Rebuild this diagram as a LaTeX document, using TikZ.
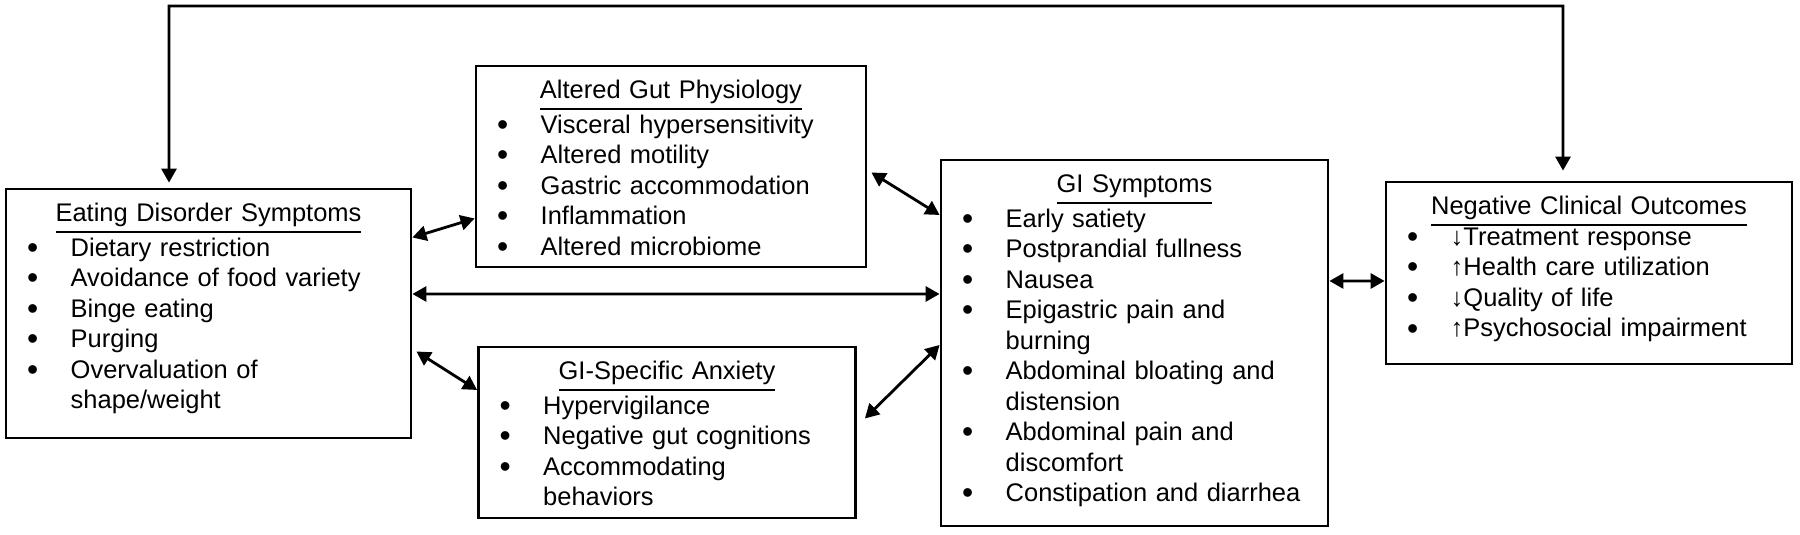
\documentclass[tikz,border=0pt]{standalone}
\usepackage{fontspec}
\setmainfont{Liberation Sans}
\usetikzlibrary{calc,arrows.meta}

\newcommand{\itm}{\makebox[4.37mm][l]{\raisebox{-0.08em}{\scalebox{1.25}{\textbullet}}}}
\newcommand{\cnt}{\hspace*{4.37mm}}
\newcommand{\ttl}[1]{\makebox[\linewidth]{\strut\underline{#1}}}

\begin{document}
\begin{tikzpicture}[line width=0.8pt,
    >={Triangle[length=4pt,width=4.3pt]},
    box/.style={draw,inner sep=0pt},
    items/.style={anchor=north,inner sep=0pt,align=left,
      font=\fontsize{7.25}{8.68}\selectfont}]
    \useasboundingbox (0,0) rectangle (18,5.35);

    \node[box,minimum width=4.05cm,minimum height=2.49cm] (ed) at (2.085,2.215) {};
    \node[box,minimum width=3.90cm,minimum height=2.01cm] (agp) at (6.71,3.685) {};
    \node[box,minimum width=3.77cm,minimum height=1.71cm] (anx) at (6.67,1.025) {};
    \node[box,minimum width=3.87cm,minimum height=3.66cm] (gis) at (11.345,1.92) {};
    \node[box,minimum width=4.06cm,minimum height=1.82cm] (nco) at (15.89,2.62) {};

    \node[items,text width=3.63cm] (edlist) at ([yshift=-1.16mm]ed.north)
      {\ttl{Eating Disorder Symptoms}\\
       \itm Dietary restriction\\
       \itm Avoidance of food variety\\
       \itm Binge eating\\
       \itm Purging\\
       \itm Overvaluation of\\
       \cnt shape/weight};
    \node[items,text width=3.48cm] (agplist) at ([yshift=-1.16mm]agp.north)
      {\ttl{Altered Gut Physiology}\\
       \itm Visceral hypersensitivity\\
       \itm Altered motility\\
       \itm Gastric accommodation\\
       \itm Inflammation\\
       \itm Altered microbiome};
    \node[items,text width=3.35cm] (anxlist) at ([yshift=-1.16mm]anx.north)
      {\ttl{GI-Specific Anxiety}\\
       \itm Hypervigilance\\
       \itm Negative gut cognitions\\
       \itm Accommodating\\
       \cnt behaviors};
    \node[items,text width=3.45cm] (gislist) at ([yshift=-1.16mm]gis.north)
      {\ttl{GI Symptoms}\\
       \itm Early satiety\\
       \itm Postprandial fullness\\
       \itm Nausea\\
       \itm Epigastric pain and\\
       \cnt burning\\
       \itm Abdominal bloating and\\
       \cnt distension\\
       \itm Abdominal pain and\\
       \cnt discomfort\\
       \itm Constipation and diarrhea};
    \node[items,text width=3.64cm] (ncolist) at ([yshift=-1.16mm]nco.north)
      {\ttl{Negative Clinical Outcomes}\\
       \itm ↓Treatment response\\
       \itm ↑Health care utilization\\
       \itm ↓Quality of life\\
       \itm ↑Psychosocial impairment};

    \draw[<->] ($(ed.north)+(-0.395,0.05)$) |- (15.63,5.29) -- ($(nco.north)+(-0.26,0.1)$);
    \draw
      ($(ed.east)+(0,0.76)$) edge[<->] ($(agp.west)+(0,-0.52)$)
      ($(ed.east)+(0,0.195)$) edge[<->] ($(gis.west)+(0,0.49)$)
      ($(ed.east)+(0.04,-0.38)$) edge[<->] ($(anx.west)+(0,0.425)$)
      ($(agp.east)+(0.04,-0.06)$) edge[<->] ($(gis.west)+(0,1.28)$)
      ($(anx.east)+(0.08,0.14)$) edge[<->] ($(gis.west)+(0,-0.02)$)
      ($(gis.east)+(0,0.62)$) edge[<->] ($(nco.west)+(0,-0.08)$);
\end{tikzpicture}
\end{document}
